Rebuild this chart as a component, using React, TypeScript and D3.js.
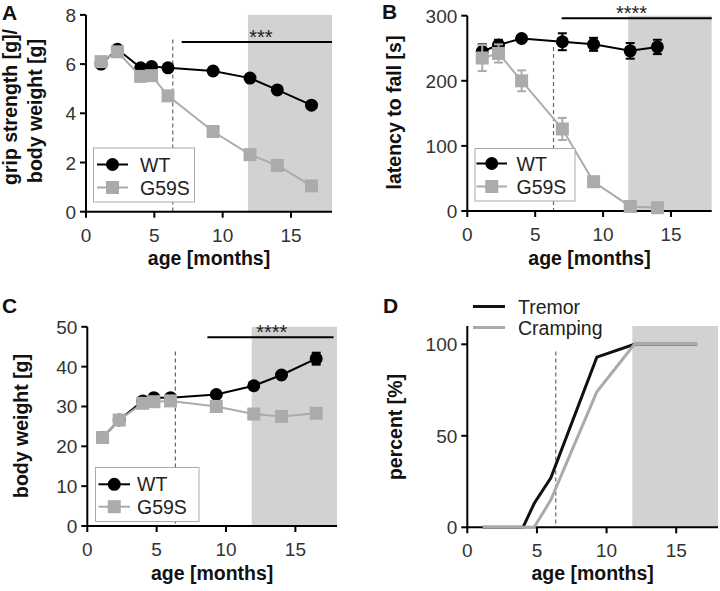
import React from "react";
import * as d3 from "d3";

// ---------- DATA ----------
const ageMonths = [1.1, 2.3, 4.0, 4.8, 6.0, 9.3, 12.0, 14.0, 16.5];
const gripWT = [6.0, 6.6, 5.85, 5.9, 5.85, 5.72, 5.43, 4.95, 4.33];
const gripG59S = [6.1, 6.5, 5.5, 5.53, 4.71, 3.26, 2.32, 1.88, 1.05];

const rotarodAge = [1.1, 2.3, 4.0, 7.0, 9.3, 12.0, 14.0];
const rotarodWT = [245, 255, 265, 260, 256, 246, 252];
const rotarodWTErr = [11, 8, 5, 13, 10, 12, 11];
const rotarodG59S = [235, 242, 200, 126, 45, 7, 5];
const rotarodG59SErr = [20, 14, 16, 17, 7, 3, 3];

const weightWT = [22.2, 26.6, 31.4, 32.2, 32.2, 33.0, 35.2, 37.9, 42.0];
const weightWTErr = [0.5, 0.5, 0.5, 0.5, 0.5, 0.6, 0.8, 0.8, 1.5];
const weightG59S = [22.2, 26.6, 30.8, 31.2, 31.4, 30.0, 28.1, 27.5, 28.3];

const tremorPct = [0, 0, 0, 13, 27, 93, 100, 100, 100];
const crampingPct = [0, 0, 0, 0, 15, 74, 100, 100, 100];

const xTicks = [0, 5, 10, 15];
const gripTicks = [0, 2, 4, 6, 8];
const rotarodTicks = [0, 100, 200, 300];
const weightTicks = [0, 10, 20, 30, 40, 50];
const percentTicks = [0, 50, 100];

const shadeStart = 11.85;
const onsetAge = 6.35;

const FONT = "'Liberation Sans', Arial, Helvetica, sans-serif";
const BLACK = "#000";
const GRAY = "#ababab";
const SHADE = "#d2d2d2";

type Series = {
  name: string;
  x: number[];
  y: number[];
  err?: number[];
  color: string;
  marker: "circle" | "square" | "none";
  width: number;
};

type PanelProps = {
  letter: string;
  letterPos: [number, number];
  xRange: [number, number];
  yRange: [number, number];
  yDomain: [number, number];
  yTicks: number[];
  yTitle: { text: string; x: number; y: number }[];
  xTitleY: number;
  series: Series[];
  dashTop: number;
  sig?: { x1: number; x2: number; y: number; label: string; lx: number };
  legend?: {
    x: number; y: number; w: number; h: number;
    rows: number[]; lineX: [number, number]; textX: number; box: boolean;
  };
};

function Marker({ s, cx, cy }: { s: Series; cx: number; cy: number }) {
  if (s.marker === "circle") return <circle cx={cx} cy={cy} r={6.5} fill={s.color} />;
  if (s.marker === "square")
    return <rect x={cx - 6.5} y={cy - 6.5} width={13} height={13} fill={s.color} />;
  return null;
}

function Panel(p: PanelProps) {
  const x = d3.scaleLinear().domain([0, 18]).range(p.xRange);
  const y = d3.scaleLinear().domain(p.yDomain).range(p.yRange);
  const y0 = y(p.yDomain[0]);
  const yTop = y(p.yDomain[1]);
  return (
    <g>
      <rect
        x={x(shadeStart)}
        y={yTop}
        width={x(18) - x(shadeStart)}
        height={y0 - yTop}
        fill={SHADE}
      />
      <line
        x1={x(onsetAge)}
        x2={x(onsetAge)}
        y1={y(p.dashTop)}
        y2={y0}
        stroke="#666"
        strokeWidth={1.2}
        strokeDasharray="4,3"
      />
      {p.sig && (
        <g>
          <line x1={x(p.sig.x1)} x2={x(p.sig.x2)} y1={y(p.sig.y)} y2={y(p.sig.y)} stroke={BLACK} strokeWidth={2} />
          <text x={x(p.sig.lx)} y={y(p.sig.y) + 2} textAnchor="middle" fontSize={20} fontFamily={FONT} fill="#222">
            {p.sig.label}
          </text>
        </g>
      )}
      <line x1={p.xRange[0]} x2={p.xRange[1]} y1={y0} y2={y0} stroke={BLACK} strokeWidth={2} />
      <line x1={p.xRange[0]} x2={p.xRange[0]} y1={y0 + 1} y2={yTop} stroke={BLACK} strokeWidth={2} />
      {xTicks.map((t) => (
        <g key={"xt" + t}>
          <line x1={x(t)} x2={x(t)} y1={y0} y2={y0 + 6} stroke={BLACK} strokeWidth={2} />
          <text x={x(t)} y={y0 + 30} textAnchor="middle" fontSize={19} fontFamily={FONT} fill="#333">
            {t}
          </text>
        </g>
      ))}
      {p.yTicks.map((t) => (
        <g key={"yt" + t}>
          <line x1={p.xRange[0] - 6} x2={p.xRange[0]} y1={y(t)} y2={y(t)} stroke={BLACK} strokeWidth={2} />
          <text x={p.xRange[0] - 10} y={y(t) + 7} textAnchor="end" fontSize={19} fontFamily={FONT} fill="#333">
            {t}
          </text>
        </g>
      ))}
      <text
        x={(p.xRange[0] + p.xRange[1]) / 2}
        y={p.xTitleY}
        textAnchor="middle"
        fontSize={19.5}
        fontWeight="bold"
        fontFamily={FONT}
        fill="#111"
      >
        age [months]
      </text>
      {p.yTitle.map((t, i) => (
        <text
          key={"ytl" + i}
          transform={`translate(${t.x},${t.y}) rotate(-90)`}
          textAnchor="middle"
          fontSize={19.5}
          fontWeight="bold"
          fontFamily={FONT}
          fill="#111"
        >
          {t.text}
        </text>
      ))}
      {p.series.map((s) => {
        const line = d3
          .line<number>()
          .x((_, i) => x(s.x[i]))
          .y((v) => y(v));
        return (
          <g key={s.name}>
            <path d={line(s.y) || ""} fill="none" stroke={s.color} strokeWidth={s.width} strokeLinejoin="miter" />
            {s.err &&
              s.y.map((v, i) => {
                const e = s.err![i];
                const cx = x(s.x[i]);
                return (
                  <g key={"e" + i}>
                    <line x1={cx} x2={cx} y1={y(v - e)} y2={y(v + e)} stroke={s.color} strokeWidth={2} />
                    <line x1={cx - 4.5} x2={cx + 4.5} y1={y(v - e)} y2={y(v - e)} stroke={s.color} strokeWidth={2} />
                    <line x1={cx - 4.5} x2={cx + 4.5} y1={y(v + e)} y2={y(v + e)} stroke={s.color} strokeWidth={2} />
                  </g>
                );
              })}
            {s.y.map((v, i) => (
              <Marker key={"m" + i} s={s} cx={x(s.x[i])} cy={y(v)} />
            ))}
          </g>
        );
      })}
      {p.legend && (
        <g>
          {p.legend.box && (
            <rect
              x={p.legend.x}
              y={p.legend.y}
              width={p.legend.w}
              height={p.legend.h}
              fill="#fff"
              stroke="#aaa"
              strokeWidth={1}
            />
          )}
          {p.series.map((s, i) => {
            const ly = p.legend!.rows[i];
            const mx = (p.legend!.lineX[0] + p.legend!.lineX[1]) / 2;
            return (
              <g key={"lg" + i}>
                <line
                  x1={p.legend!.lineX[0]}
                  x2={p.legend!.lineX[1]}
                  y1={ly}
                  y2={ly}
                  stroke={s.color}
                  strokeWidth={s.width}
                />
                <Marker s={s} cx={mx} cy={ly} />
                <text x={p.legend!.textX} y={ly + 7} fontSize={19.5} fontFamily={FONT} fill="#222">
                  {s.name}
                </text>
              </g>
            );
          })}
        </g>
      )}
      <text x={p.letterPos[0]} y={p.letterPos[1]} fontSize={21} fontWeight="bold" fontFamily={FONT} fill="#111">
        {p.letter}
      </text>
    </g>
  );
}

export default function App() {
  return (
    <svg
      width={720}
      height={591}
      style={{ position: "absolute", left: 0, top: 0, background: "#fff" }}
    >
      <rect width={720} height={591} fill="#fff" />
      <Panel
        letter="A"
        letterPos={[2, 20]}
        xRange={[86, 332]}
        yRange={[211.7, 14.9]}
        yDomain={[0, 8]}
        yTicks={gripTicks}
        yTitle={[
          { text: "grip strength [g]/", x: 17, y: 107 },
          { text: "body weight [g]", x: 42, y: 111 },
        ]}
        xTitleY={265}
        dashTop={7.0}
        sig={{ x1: 7.0, x2: 18, y: 6.9, label: "***", lx: 12.8 }}
        series={[
          { name: "WT", x: ageMonths, y: gripWT, color: BLACK, marker: "circle", width: 2 },
          { name: "G59S", x: ageMonths, y: gripG59S, color: GRAY, marker: "square", width: 2 },
        ]}
        legend={{ x: 93.5, y: 148, w: 101, h: 54, rows: [164.5, 187.5], lineX: [97, 128], textX: 140, box: true }}
      />
      <Panel
        letter="B"
        letterPos={[382, 19]}
        xRange={[467.3, 711.7]}
        yRange={[211, 15.7]}
        yDomain={[0, 300]}
        yTicks={rotarodTicks}
        yTitle={[{ text: "latency to fall [s]", x: 401, y: 112.5 }]}
        xTitleY={265}
        dashTop={252}
        sig={{ x1: 6.95, x2: 18, y: 296, label: "****", lx: 12.1 }}
        series={[
          { name: "WT", x: rotarodAge, y: rotarodWT, err: rotarodWTErr, color: BLACK, marker: "circle", width: 2 },
          { name: "G59S", x: rotarodAge, y: rotarodG59S, err: rotarodG59SErr, color: GRAY, marker: "square", width: 2 },
        ]}
        legend={{ x: 475, y: 148.5, w: 100, h: 52.5, rows: [163.5, 186.5], lineX: [476.5, 507], textX: 516.5, box: true }}
      />
      <Panel
        letter="C"
        letterPos={[2, 313]}
        xRange={[87.3, 337]}
        yRange={[526, 326.8]}
        yDomain={[0, 50]}
        yTicks={weightTicks}
        yTitle={[{ text: "body weight [g]", x: 28, y: 426 }]}
        xTitleY={580}
        dashTop={43.8}
        sig={{ x1: 8.66, x2: 17.75, y: 47.4, label: "****", lx: 13.3 }}
        series={[
          { name: "WT", x: ageMonths, y: weightWT, err: weightWTErr, color: BLACK, marker: "circle", width: 2 },
          { name: "G59S", x: ageMonths, y: weightG59S, color: GRAY, marker: "square", width: 2 },
        ]}
        legend={{ x: 95.5, y: 467.5, w: 103.5, h: 54, rows: [484.3, 506.7], lineX: [98.5, 130], textX: 137, box: true }}
      />
      <Panel
        letter="D"
        letterPos={[383, 313]}
        xRange={[467.3, 718]}
        yRange={[527.3, 326.0]}
        yDomain={[0, 110]}
        yTicks={percentTicks}
        yTitle={[{ text: "percent [%]", x: 402, y: 427 }]}
        xTitleY={580}
        dashTop={96}
        series={[
          { name: "Tremor", x: ageMonths, y: tremorPct, color: "#111", marker: "none", width: 3 },
          { name: "Cramping", x: ageMonths, y: crampingPct, color: GRAY, marker: "none", width: 3 },
        ]}
        legend={{ x: 0, y: 0, w: 0, h: 0, rows: [306.5, 327.5], lineX: [473, 505], textX: 518, box: false }}
      />
    </svg>
  );
}
